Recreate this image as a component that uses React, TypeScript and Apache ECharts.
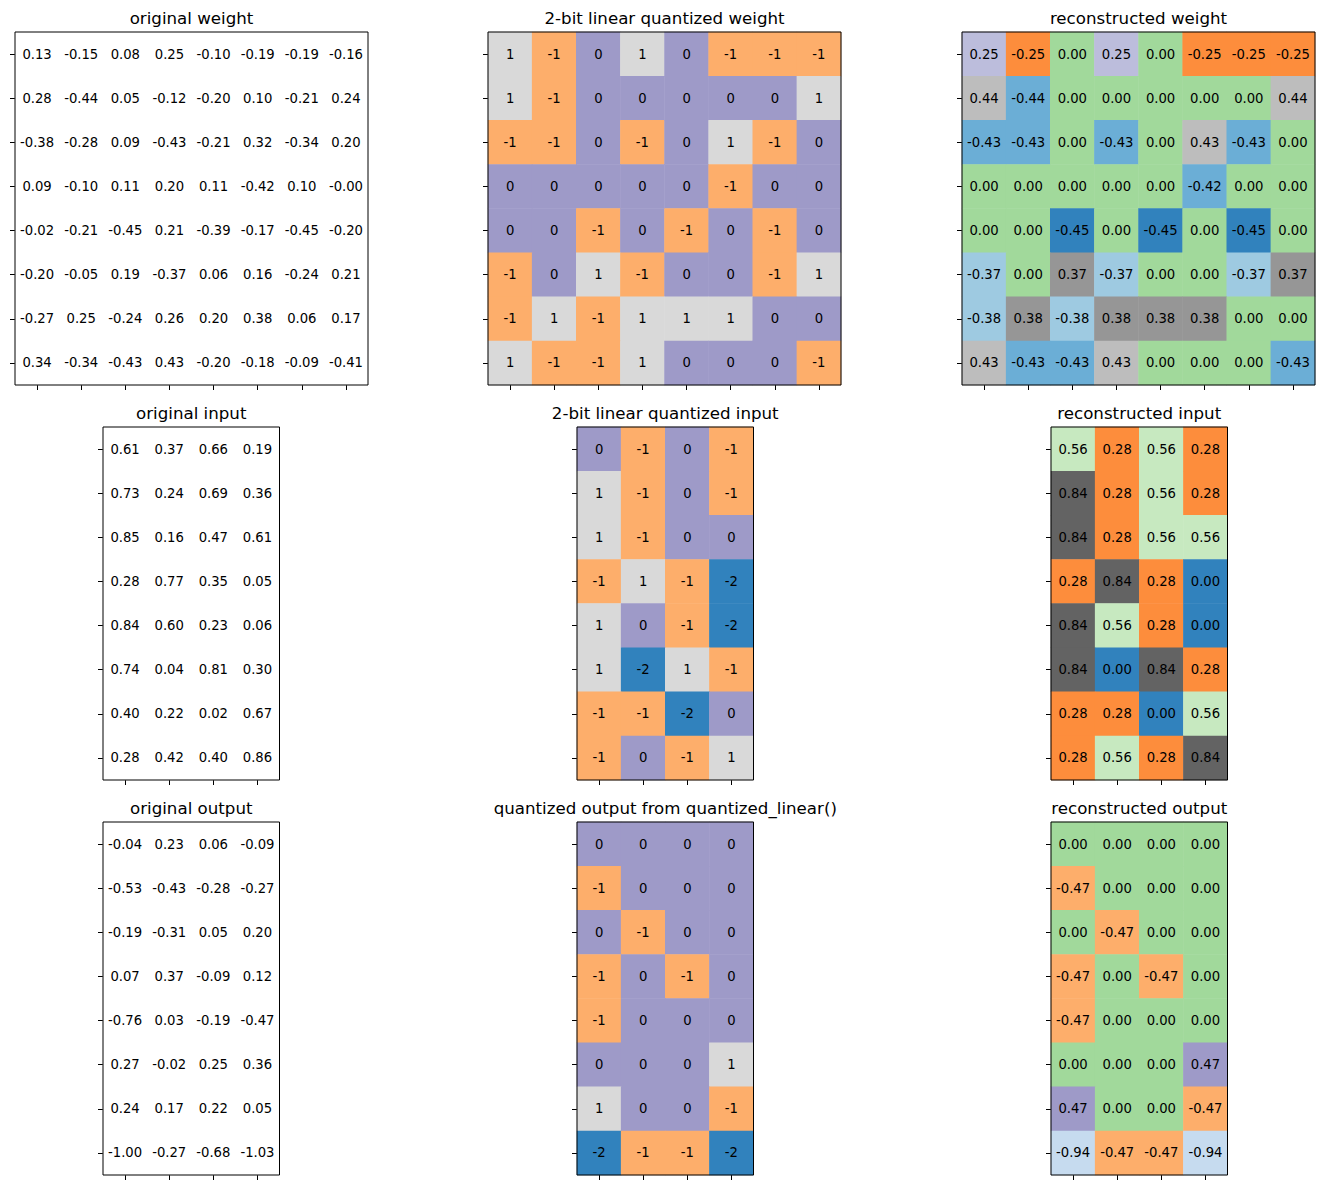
import React, { useEffect, useRef } from "react";
import * as echarts from "echarts";

// ---------------- data ----------------
const originalWeight = [
  [0.13, -0.15, 0.08, 0.25, -0.1, -0.19, -0.19, -0.16],
  [0.28, -0.44, 0.05, -0.12, -0.2, 0.1, -0.21, 0.24],
  [-0.38, -0.28, 0.09, -0.43, -0.21, 0.32, -0.34, 0.2],
  [0.09, -0.1, 0.11, 0.2, 0.11, -0.42, 0.1, -0.003],
  [-0.02, -0.21, -0.45, 0.21, -0.39, -0.17, -0.45, -0.2],
  [-0.2, -0.05, 0.19, -0.37, 0.06, 0.16, -0.24, 0.21],
  [-0.27, 0.25, -0.24, 0.26, 0.2, 0.38, 0.06, 0.17],
  [0.34, -0.34, -0.43, 0.43, -0.2, -0.18, -0.09, -0.41],
];

const quantizedWeight = [
  [1, -1, 0, 1, 0, -1, -1, -1],
  [1, -1, 0, 0, 0, 0, 0, 1],
  [-1, -1, 0, -1, 0, 1, -1, 0],
  [0, 0, 0, 0, 0, -1, 0, 0],
  [0, 0, -1, 0, -1, 0, -1, 0],
  [-1, 0, 1, -1, 0, 0, -1, 1],
  [-1, 1, -1, 1, 1, 1, 0, 0],
  [1, -1, -1, 1, 0, 0, 0, -1],
];

const reconstructedWeight = [
  [0.25, -0.25, 0.0, 0.25, 0.0, -0.25, -0.25, -0.25],
  [0.44, -0.44, 0.0, 0.0, 0.0, 0.0, 0.0, 0.44],
  [-0.43, -0.43, 0.0, -0.43, 0.0, 0.43, -0.43, 0.0],
  [0.0, 0.0, 0.0, 0.0, 0.0, -0.42, 0.0, 0.0],
  [0.0, 0.0, -0.45, 0.0, -0.45, 0.0, -0.45, 0.0],
  [-0.37, 0.0, 0.37, -0.37, 0.0, 0.0, -0.37, 0.37],
  [-0.38, 0.38, -0.38, 0.38, 0.38, 0.38, 0.0, 0.0],
  [0.43, -0.43, -0.43, 0.43, 0.0, 0.0, 0.0, -0.43],
];

const originalInput = [
  [0.61, 0.37, 0.66, 0.19],
  [0.73, 0.24, 0.69, 0.36],
  [0.85, 0.16, 0.47, 0.61],
  [0.28, 0.77, 0.35, 0.05],
  [0.84, 0.6, 0.23, 0.06],
  [0.74, 0.04, 0.81, 0.3],
  [0.4, 0.22, 0.02, 0.67],
  [0.28, 0.42, 0.4, 0.86],
];

const quantizedInput = [
  [0, -1, 0, -1],
  [1, -1, 0, -1],
  [1, -1, 0, 0],
  [-1, 1, -1, -2],
  [1, 0, -1, -2],
  [1, -2, 1, -1],
  [-1, -1, -2, 0],
  [-1, 0, -1, 1],
];

const reconstructedInput = [
  [0.56, 0.28, 0.56, 0.28],
  [0.84, 0.28, 0.56, 0.28],
  [0.84, 0.28, 0.56, 0.56],
  [0.28, 0.84, 0.28, 0.0],
  [0.84, 0.56, 0.28, 0.0],
  [0.84, 0.0, 0.84, 0.28],
  [0.28, 0.28, 0.0, 0.56],
  [0.28, 0.56, 0.28, 0.84],
];

const originalOutput = [
  [-0.04, 0.23, 0.06, -0.09],
  [-0.53, -0.43, -0.28, -0.27],
  [-0.19, -0.31, 0.05, 0.2],
  [0.07, 0.37, -0.09, 0.12],
  [-0.76, 0.03, -0.19, -0.47],
  [0.27, -0.02, 0.25, 0.36],
  [0.24, 0.17, 0.22, 0.05],
  [-1.0, -0.27, -0.68, -1.03],
];

const quantizedOutput = [
  [0, 0, 0, 0],
  [-1, 0, 0, 0],
  [0, -1, 0, 0],
  [-1, 0, -1, 0],
  [-1, 0, 0, 0],
  [0, 0, 0, 1],
  [1, 0, 0, -1],
  [-2, -1, -1, -2],
];

const reconstructedOutput = [
  [0.0, 0.0, 0.0, 0.0],
  [-0.47, 0.0, 0.0, 0.0],
  [0.0, -0.47, 0.0, 0.0],
  [-0.47, 0.0, -0.47, 0.0],
  [-0.47, 0.0, 0.0, 0.0],
  [0.0, 0.0, 0.0, 0.47],
  [0.47, 0.0, 0.0, -0.47],
  [-0.94, -0.47, -0.47, -0.94],
];

const panelTitles = [
  "original weight",
  "2-bit linear quantized weight",
  "reconstructed weight",
  "original input",
  "2-bit linear quantized input",
  "reconstructed input",
  "original output",
  "quantized output from quantized_linear()",
  "reconstructed output",
];

// ---------------- styles ----------------
const FONT = "DejaVu Sans";

const WHITE_PIECES = [{ gte: -100, lte: 100, color: "#ffffff" }];
const QUANT_PIECES = [
  { lt: -1.5, color: "#3182bd" },
  { gte: -1.5, lt: -0.5, color: "#fdae6b" },
  { gte: -0.5, lt: 0.5, color: "#9e9ac8" },
  { gte: 0.5, color: "#d9d9d9" },
];
const RECON_WEIGHT_PIECES = [
  { lt: -0.445, color: "#3182bd" },
  { gte: -0.445, lt: -0.4, color: "#6baed6" },
  { gte: -0.4, lt: -0.3, color: "#9ecae1" },
  { gte: -0.3, lt: -0.1, color: "#fd8d3c" },
  { gte: -0.1, lt: 0.1, color: "#a1d99b" },
  { gte: 0.1, lt: 0.3, color: "#bcbddc" },
  { gte: 0.3, lt: 0.4, color: "#969696" },
  { gte: 0.4, color: "#bdbdbd" },
];
const RECON_INPUT_PIECES = [
  { lt: 0.14, color: "#3182bd" },
  { gte: 0.14, lt: 0.42, color: "#fd8d3c" },
  { gte: 0.42, lt: 0.7, color: "#c7e9c0" },
  { gte: 0.7, color: "#636363" },
];
const RECON_OUTPUT_PIECES = [
  { lt: -0.7, color: "#c6dbef" },
  { gte: -0.7, lt: -0.235, color: "#fdae6b" },
  { gte: -0.235, lt: 0.235, color: "#a1d99b" },
  { gte: 0.235, color: "#9e9ac8" },
];

const PANELS = [
  { data: originalWeight, pieces: WHITE_PIECES, int: false },
  { data: quantizedWeight, pieces: QUANT_PIECES, int: true },
  { data: reconstructedWeight, pieces: RECON_WEIGHT_PIECES, int: false },
  { data: originalInput, pieces: WHITE_PIECES, int: false },
  { data: quantizedInput, pieces: QUANT_PIECES, int: true },
  { data: reconstructedInput, pieces: RECON_INPUT_PIECES, int: false },
  { data: originalOutput, pieces: WHITE_PIECES, int: false },
  { data: quantizedOutput, pieces: QUANT_PIECES, int: true },
  { data: reconstructedOutput, pieces: RECON_OUTPUT_PIECES, int: false },
];

const LAYOUT = [
  { left: 15, top: 32, width: 353, height: 353 },
  { left: 488, top: 32, width: 353, height: 353 },
  { left: 962, top: 32, width: 353, height: 353 },
  { left: 103, top: 427, width: 176.5, height: 353 },
  { left: 577, top: 427, width: 176.5, height: 353 },
  { left: 1051, top: 427, width: 176.5, height: 353 },
  { left: 103, top: 822, width: 176.5, height: 353 },
  { left: 577, top: 822, width: 176.5, height: 353 },
  { left: 1051, top: 822, width: 176.5, height: 353 },
];

function toCells(matrix: number[][]) {
  const out: number[][] = [];
  matrix.forEach((row, r) => row.forEach((v, c) => out.push([c, r, v])));
  return out;
}

function buildOption() {
  const grid: any[] = [];
  const xAxis: any[] = [];
  const yAxis: any[] = [];
  const series: any[] = [];
  const visualMap: any[] = [];
  const graphic: any[] = [];

  PANELS.forEach((p, i) => {
    const L = LAYOUT[i];
    const nRows = p.data.length;
    const nCols = p.data[0].length;
    grid.push({
      left: L.left,
      top: L.top,
      width: L.width,
      height: L.height,
      show: true,
      borderColor: "#000",
      borderWidth: 1,
      backgroundColor: "transparent",
      z: 5,
      containLabel: false,
    });
    const tick = {
      show: true,
      alignWithLabel: true,
      interval: 0,
      inside: false,
      length: 5,
      lineStyle: { color: "#000", width: 1 },
    };
    xAxis.push({
      type: "category",
      gridIndex: i,
      data: Array.from({ length: nCols }, (_, k) => String(k)),
      boundaryGap: true,
      axisLine: { show: false },
      axisTick: tick,
      axisLabel: { show: false },
      splitLine: { show: false },
    });
    yAxis.push({
      type: "category",
      gridIndex: i,
      inverse: true,
      data: Array.from({ length: nRows }, (_, k) => String(k)),
      boundaryGap: true,
      axisLine: { show: false },
      axisTick: tick,
      axisLabel: { show: false },
      splitLine: { show: false },
    });
    series.push({
      type: "heatmap",
      xAxisIndex: i,
      yAxisIndex: i,
      data: toCells(p.data),
      label: {
        show: true,
        color: "#000",
        fontFamily: FONT,
        fontSize: 13.2,
        formatter: (params: any) => {
          const v = params.value[2];
          return p.int ? String(Math.round(v)) : v.toFixed(2);
        },
      },
      itemStyle: { borderWidth: 0 },
      emphasis: { disabled: true },
    });
    visualMap.push({
      type: "piecewise",
      show: false,
      seriesIndex: i,
      dimension: 2,
      pieces: p.pieces,
    });
    graphic.push({
      type: "text",
      x: L.left + L.width / 2,
      y: L.top - 14,
      style: {
        text: panelTitles[i],
        fontFamily: FONT,
        fontSize: 16.67,
        fill: "#000",
        align: "center",
        verticalAlign: "middle",
      },
    });
  });

  return {
    animation: false,
    backgroundColor: "#ffffff",
    grid,
    xAxis,
    yAxis,
    series,
    visualMap,
    graphic,
  };
}

export default function App() {
  const ref = useRef<HTMLDivElement>(null);
  useEffect(() => {
    if (!ref.current) return;
    const chart = echarts.init(ref.current, undefined, { renderer: "svg" });
    chart.setOption(buildOption() as any);
    return () => chart.dispose();
  }, []);
  return (
    <div
      ref={ref}
      style={{
        position: "absolute",
        left: 0,
        top: 0,
        width: 1324,
        height: 1190,
        background: "#fff",
      }}
    />
  );
}
